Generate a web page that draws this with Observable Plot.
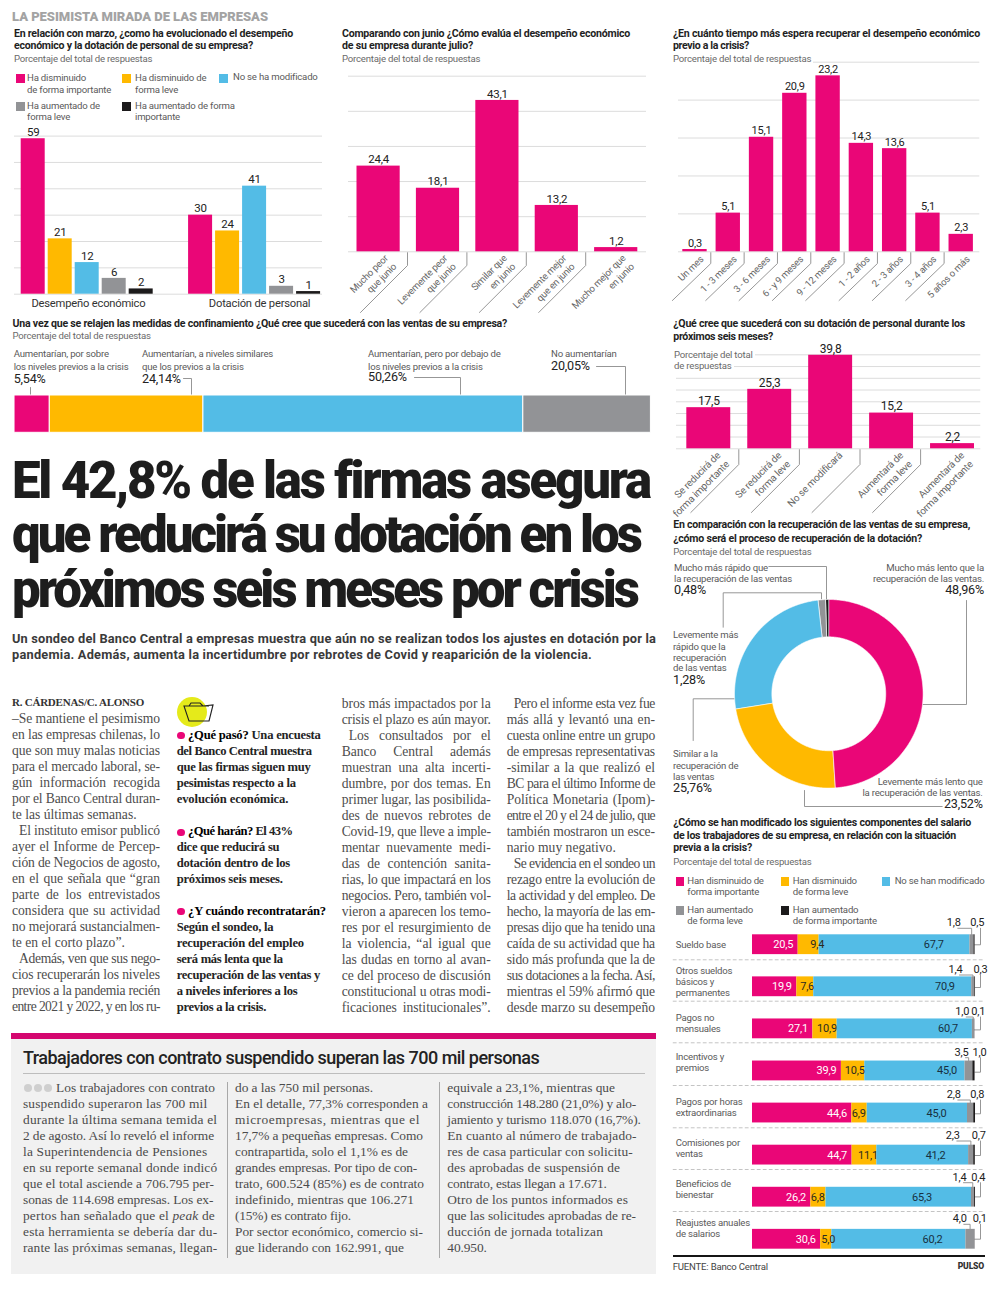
<!DOCTYPE html>
<html lang="es">
<head>
<meta charset="utf-8">
<title>La pesimista mirada de las empresas</title>
<script src="https://cdn.jsdelivr.net/npm/d3@7"></script>
<script src="https://cdn.jsdelivr.net/npm/@observablehq/plot@0.6"></script>
<style>
html,body{margin:0;padding:0;background:#fff;overflow:hidden}
#page{position:relative;width:1000px;height:1298px;overflow:hidden;background:#fff;font-family:Roboto,sans-serif}
#page svg{position:absolute}
.t{position:absolute;white-space:pre;transform:translateY(-50%);line-height:1.1;color:#5a5a5a;font-size:9.6px;letter-spacing:-.2px}
.q{color:#1f1f1f;font-weight:700;font-size:10.6px;letter-spacing:0}
.sub{color:#6a6a6a;font-size:9.6px;background:#fff;padding-right:2px}
.val{color:#222;font-size:12.6px;letter-spacing:-.2px}
.s{font-family:"Liberation Serif",serif;color:#4d4d4d;font-size:13.6px;letter-spacing:0}
.sb{font-family:"Liberation Serif",serif;color:#242424;font-size:12.6px;font-weight:700;letter-spacing:0}
.box{font-family:"Liberation Serif",serif;color:#4b4b4b;font-size:13.4px;letter-spacing:0}
.sw{position:absolute;width:8.5px;height:8.5px}
.b{position:absolute}
</style>
</head>
<body>
<div id="page"></div>
<script>
// ---------- DATA ----------
const pink = "#ea0677", amber = "#ffb900", sky = "#53bce6", grey = "#929396", ink = "#1c1a1b";

const groups = ["Desempeño económico", "Dotación de personal"];
const answerKeys = ["Ha disminuido de forma importante", "Ha disminuido de forma leve", "No se ha modificado", "Ha aumentado de forma leve", "Ha aumentado de forma importante"];
const desempeno = [59, 21, 12, 6, 2];
const dotacion = [30, 24, 41, 3, 1];

const juneLabels = ["Mucho peor\nque junio", "Levemente peor\nque junio", "Similar que\nen junio", "Levemente mejor\nque en junio", "Mucho mejor que\nen junio"];
const juneValues = [24.4, 18.1, 43.1, 13.2, 1.2];

const timeLabels = ["Un mes", "1 - 3 meses", "3 - 6 meses", "6 - y 9 meses", "9 - 12 meses", "1 - 2 años", "2 - 3 años", "3 - 4 años", "5 años o más"];
const timeValues = [0.3, 5.1, 15.1, 20.9, 23.2, 14.3, 13.6, 5.1, 2.3];

const salesKeys = ["Por sobre", "Similares", "Por debajo", "No aumentarían"];
const salesValues = [5.54, 24.14, 50.26, 20.05];

const staffLabels = ["Se reducirá de\nforma importante", "Se reducirá de\nforma leve", "No se modificará", "Aumentará de\nforma leve", "Aumentará de\nforma importante"];
const staffValues = [17.5, 25.3, 39.8, 15.2, 2.2];

const donutKeys = ["Mucho más lento", "Levemente más lento", "Similar", "Levemente más rápido", "Mucho más rápido"];
const donutValues = [48.96, 23.52, 25.76, 1.28, 0.48];

const salaryRows = ["Sueldo base", "Otros sueldos básicos y permanentes", "Pagos no mensuales", "Incentivos y premios", "Pagos por horas extraordinarias", "Comisiones por ventas", "Beneficios de bienestar", "Reajustes anuales de salarios"];
const salaryKeys = ["Han disminuido de forma importante", "Han disminuido de forma leve", "No se han modificado", "Han aumentado de forma leve", "Han aumentado de forma importante"];
const salPink = [20.5, 19.9, 27.1, 39.9, 44.6, 44.7, 26.2, 30.6];
const salAmber = [9.4, 7.6, 10.9, 10.5, 6.9, 11.1, 6.8, 5.0];
const salSky = [67.7, 70.9, 60.7, 45.0, 45.0, 41.2, 65.3, 60.2];
const salGrey = [1.8, 1.4, 1.0, 3.5, 2.8, 2.3, 1.4, 4.0];
const salInk = [0.5, 0.3, 0.1, 1.0, 0.8, 0.7, 0.4, 0.1];

// ---------- ARTICLE TEXT ----------
const headline = ["El 42,8% de las firmas asegura", "que reducirá su dotación en los", "próximos seis meses por crisis"];
const deck = ["Un sondeo del Banco Central a empresas muestra que aún no se realizan todos los ajustes en dotación por la", "pandemia. Además, aumenta la incertidumbre por rebrotes de Covid y reaparición de la violencia."];
const col1 = ["–Se mantiene el pesimismo","en las empresas chilenas, lo","que son muy malas noticias","para el mercado laboral, se-","gún información recogida","por el Banco Central duran-","te las últimas semanas.|","  El instituto emisor publicó","ayer el Informe de Percep-","ción de Negocios de agosto,","en el que señala que “gran","parte de los entrevistados","considera que su actividad","no mejorará sustancialmen-","te en el corto plazo”.|","  Además, ven que sus nego-","cios recuperarán los niveles","previos a la pandemia recién","entre 2021 y 2022, y en los ru-"];
const col3 = ["bros más impactados por la","crisis el plazo es aún mayor.","  Los consultados por el","Banco Central además","muestran una alta incerti-","dumbre, por dos temas. En","primer lugar, las posibilida-","des de nuevos rebrotes de","Covid-19, que lleve a imple-","mentar nuevamente medi-","das de contención sanita-","rias, lo que impactará en los","negocios. Pero, también vol-","vieron a aparecen los temo-","res por el resurgimiento de","la violencia, “al igual que","las dudas en torno al avan-","ce del proceso de discusión","constitucional u otras modi-","ficaciones institucionales”."];
const col4 = ["  Pero el informe esta vez fue","más allá y levantó una en-","cuesta online entre un grupo","de empresas representativas","-similar a la que realizó el","BC para el último Informe de","Política Monetaria (Ipom)-","entre el 20 y el 24 de julio, que","también mostraron un esce-","nario muy negativo.|","  Se evidencia en el sondeo un","rezago entre la evolución de","la actividad y del empleo. De","hecho, la mayoría de las em-","presas dijo que ha tenido una","caída de su actividad que ha","sido más profunda que la de","sus dotaciones a la fecha. Así,","mientras el 59% afirmó que","desde marzo su desempeño"];
const side = [
 [735.7,"<b style='color:#000'>¿Qué pasó?</b> Una encuesta",188,320.7],[751.7,"del Banco Central muestra",176.7,311.7],[767.7,"que las firmas siguen muy",176.7,310.7],[784,"pesimistas respecto a la",176.7,295.7],[800,"evolución económica.",176.7,288.3],
 [832.3,"<b style='color:#000'>¿Qué harán?</b> El 43%",188,292.7],[848,"dice que reducirá su",176.7,279.3],[864,"dotación dentro de los",176.7,290],[880,"próximos seis meses.",176.7,282.7],
 [911.7,"<b style='color:#000'>¿Y cuándo recontratarán?</b>",188,326],[927.7,"Según el sondeo, la",176.7,273.3],[943.7,"recuperación del empleo",176.7,304],[959.7,"será más lenta que la",176.7,282.7],[975.7,"recuperación de las ventas y",176.7,320],[991.7,"a niveles inferiores a los",176.7,297.3],[1007.7,"previos a la crisis.",176.7,266]
];
const boxHead = "Trabajadores con contrato suspendido superan las 700 mil personas";
const box1 = [["Los trabajadores con contrato",56,215],["suspendido superaron las 700 mil",23,207.3],["durante la última semana temida el",23,217.3],["2 de agosto. Así lo reveló el informe",23,214],["la Superintendencia de Pensiones",23,207.3],["en su reporte semanal donde indicó",23,217.3],["que el total asciende a 706.795 per-",23,214],["sonas de 114.698 empresas. Los ex-",23,213.3],["pertos han señalado que el <i>peak</i> de",23,215],["esta herramienta se debería dar du-",23,217.3],["rante las próximas semanas, llegan-",23,217.3]];
const box2 = [["do a las 750 mil personas.",373],["En el detalle, 77,3% corresponden a",428],["microempresas, mientras que el",420],["17,7% a pequeñas empresas. Como",423],["contrapartida, solo el 1,1% es de",408],["grandes empresas. Por tipo de con-",417],["trato, 600.524 (85%) es de contrato",424],["indefinido, mientras que 106.271",414],["(15%) es contrato fijo.",351],["Por sector económico, comercio si-",423],["gue liderando con 162.991, que",404]];
const box3 = [["equivale a 23,1%, mientras que",615],["construcción 148.280 (21,0%) y alo-",636],["jamiento y turismo 118.070 (16,7%).",640.7],["En cuanto al número de trabajado-",636.7],["res de casa particular con solicitu-",632.7],["des aprobadas de suspensión de",620],["contrato, estas llegan a 17.671.",606.7],["Otro de los puntos informados es",628],["que las solicitudes aprobadas de re-",636],["ducción de jornada totalizan",603],["40.950.",486.7]];

// ---------- HELPERS ----------
const page = document.getElementById("page");
const fmt1 = v => v.toFixed(1).replace(".", ",");

function T(x, y, html, cls = "", o = {}) {
  const e = document.createElement("div");
  e.className = "t " + cls;
  e.innerHTML = html;
  if (o.right != null) { e.style.right = (1000 - o.right) + "px"; } else { e.style.left = x + "px"; }
  e.style.top = y + "px";
  if (o.color) e.style.color = o.color;
  if (o.size) e.style.fontSize = o.size + "px";
  if (o.weight) e.style.fontWeight = o.weight;
  if (o.family) e.style.fontFamily = o.family;
  if (o.lh) e.style.lineHeight = o.lh;
  page.append(e);
  if (o.end != null) {
    const n = e.textContent.length;
    const cur = parseFloat(getComputedStyle(e).letterSpacing) || 0;
    const nat = e.getBoundingClientRect().width;
    const ls = cur + (o.end - x - nat) / Math.max(1, n);
    e.style.letterSpacing = ls.toFixed(3) + "px";
  }
  return e;
}
function Just(x, y, end, raw, cls) {
  let s = raw, free = false, ind = 0;
  if (s.endsWith("|")) { s = s.slice(0, -1); free = true; }
  if (s.startsWith("  ")) { s = s.slice(2); ind = 7; }
  const e = T(x + ind, y, s, cls);
  if (free) return;
  const w = end - x - ind, nat = e.getBoundingClientRect().width;
  const spaces = (s.match(/ /g) || []).length;
  if (nat > w) e.style.letterSpacing = ((w - nat) / s.length).toFixed(3) + "px";
  else if (spaces) e.style.wordSpacing = ((w - nat) / spaces).toFixed(3) + "px";
}
function Box(l, t, w, h, bg) {
  const e = document.createElement("div");
  e.className = "b";
  Object.assign(e.style, {left: l + "px", top: t + "px", width: w + "px", height: h + "px", background: bg});
  page.append(e);
}
function Sw(l, t, c) {
  const e = document.createElement("div");
  e.className = "sw";
  Object.assign(e.style, {left: l + "px", top: t + "px", background: c});
  page.append(e);
}
// a chart panel: l,t,w,h are its place on the page, m a side margin for the gridlines
function panel(l, t, w, h, m, opts) {
  const svg = Plot.plot({
    width: w + 2 * m, height: h, marginLeft: m, marginRight: m, marginTop: 0, marginBottom: 0,
    style: {background: "transparent", overflow: "visible", fontFamily: "Roboto,sans-serif", letterSpacing: "-0.2px"},
    ...opts
  });
  svg.style.left = (l - m) + "px";
  svg.style.top = t + "px";
  page.append(svg);
  return svg;
}
function poly(list, pts) { const id = list.length ? list[list.length - 1].id + 1 : 0; pts.forEach(p => list.push({id, x: p[0], y: p[1]})); }

// ---------- ANNOTATION LAYER (leader lines, separators, small labels), in page pixels ----------
const leaders = [], dashes = [], topLabels = [];

juneValues.slice(1).forEach((_, i) => { const x = 407 + i * 59.4; poly(leaders, [[x, 252], [x, 265], [x - 47, 312]]); });
timeValues.slice(1).forEach((_, i) => { const x = 710.3 + i * 33.33; poly(leaders, [[x, 252], [x, 263], [x - 38.4, 300]]); });
staffValues.slice(1).forEach((_, i) => { const x = 738.3 + i * 60.6; poly(leaders, [[x, 449], [x, 464], [x - 48, 512]]); });
poly(leaders, [[30, 387], [30, 395]]);
poly(leaders, [[183, 378], [191, 378], [191, 395]]);
poly(leaders, [[414, 377], [460, 377], [460, 395]]);
poly(leaders, [[596, 366], [625, 366], [625, 395]]);
poly(leaders, [[768.3, 566], [826, 566], [826, 598.3]]);
poly(leaders, [[722.7, 626.7], [722.7, 592.3], [821, 592.3], [821, 598.3]]);
poly(leaders, [[966, 600], [966, 704], [922.3, 704]]);
poly(leaders, [[692.7, 740], [692.7, 698.3], [734, 698.3]]);
poly(leaders, [[804, 790], [804, 806], [941.7, 806]]);
const rowTops = [934.3, 977, 1019.4, 1061.7, 1103.3, 1145, 1186.4, 1228.7];
const sepYs = [959.3, 1000.7, 1042.3, 1085, 1127.3, 1169, 1211];
const greyLabelX = [953.3, 955, 961.7, 961, 953.3, 952.3, 959, 959.3];
const inkLabelX = [976.7, 980, 977.7, 979, 976.7, 978.3, 977.7, 979.3];
const labelY = [922.3, 969, 1011, 1051.7, 1094, 1135, 1176.7, 1218.3];
const sx0 = 751.7, sk = 2.228;
rowTops.forEach((top, i) => {
  const before = salPink[i] + salAmber[i] + salSky[i];
  const gm = sx0 + sk * (before + salGrey[i] / 2);
  const end = sx0 + sk * (before + salGrey[i] + salInk[i]);
  const ly = labelY[i] + 5.5;
  poly(leaders, [[greyLabelX[i] + 4, ly], [gm, ly], [gm, top]]);
  poly(leaders, [[980, ly], [980, top + 10], [end, top + 10]]);
  topLabels.push({x: greyLabelX[i], y: labelY[i], t: fmt1(salGrey[i])});
  topLabels.push({x: inkLabelX[i], y: labelY[i], t: fmt1(salInk[i])});
});
sepYs.forEach(y => poly(dashes, [[672.7, y], [982.7, y]]));

panel(0, 0, 1000, 1298, 0, {
  x: {domain: [0, 1000], range: [0, 1000], axis: null},
  y: {domain: [0, 1298], range: [0, 1298], axis: null},
  marks: [
    Plot.line(leaders, {x: "x", y: "y", z: "id", stroke: "#8b8b8b", strokeWidth: 0.9, curve: "linear"}),
    Plot.line(dashes, {x: "x", y: "y", z: "id", stroke: "#bdbdbd", strokeWidth: 0.9, strokeDasharray: "3,3"}),
    Plot.text(topLabels, {x: "x", y: "y", text: "t", fontSize: 11, fill: "#222"})
  ]
});

// ---------- CHART 1: grouped bars ----------
const groupStep = 6.2, barShare = 0.889;
const groupLabelAt = [2.49, 8.83];
const groupedRows = [desempeno, dotacion].flatMap((vals, g) => vals.map((v, s) => ({g, s, v, slot: g * groupStep + s})));
panel(14, 120, 308, 190, 0, {
  x: {domain: [0, 11.06], range: [6.7, 305.3], axis: null},
  y: {domain: [0, 60], range: [173.7, 15.6], axis: null},
  color: {domain: answerKeys.map((_, i) => i), range: [pink, amber, sky, grey, ink]},
  marks: [
    Plot.ruleY(d3.range(0, 61, 10), {stroke: "#dcdcdc", strokeWidth: 1}),
    Plot.rectY(groupedRows, {x1: "slot", x2: d => d.slot + barShare, y1: () => 0, y2: "v", fill: "s"}),
    Plot.text(groupedRows, {x: d => d.slot + barShare / 2, y: "v", text: d => String(d.v), dy: -6.5, fontSize: 11.5, fill: "#222"}),
    Plot.text(groups, {x: (d, i) => groupLabelAt[i], y: () => 0, text: d => d, dy: 9, fontSize: 11.2, fill: "#333"})
  ]
});

// ---------- rotated-label column chart ----------
function columns(labels, values, o) {
  const rows = labels.map((label, i) => ({label, v: values[i]}));
  panel(o.gl, o.t, o.gr - o.gl, o.h, o.m, {
    x: {type: "band", domain: labels, range: [o.a - o.gl + o.m, o.b - o.gl + o.m], paddingInner: o.pad, paddingOuter: 0, round: false, axis: null},
    y: {domain: o.dom, range: [o.base - o.t, o.top - o.t], axis: null},
    marks: [
      Plot.ruleY(d3.range(0, o.dom[1] + 1, o.tick), {stroke: "#dcdcdc", strokeWidth: 1}),
      Plot.barY(rows, {x: "label", y: "v", fill: pink}),
      Plot.text(rows, {x: "label", y: "v", text: d => fmt1(d.v), dy: -6.5, fontSize: o.vs, fill: "#222"}),
      Plot.text(rows, {x: "label", y: () => 0, text: "label", rotate: -45, textAnchor: "end", lineAnchor: "top", lineHeight: 1.25, dx: o.dx, dy: o.dy, fontSize: o.ls, fill: "#666"})
    ]
  });
}
columns(juneLabels, juneValues, {gl: 348, gr: 646, t: 66, h: 250, m: 16, a: 356.5, b: 637.3, pad: 0.273, dom: [0, 50], tick: 10, base: 251.3, top: 75.7, vs: 11.5, ls: 9.6, dx: 4, dy: 1});
columns(timeLabels, timeValues, {gl: 678.3, gr: 979.6, t: 55, h: 250, m: 8, a: 682.6, b: 973.2, pad: 0.268, dom: [0, 25], tick: 5, base: 251.3, top: 61.7, vs: 11, ls: 9.6, dx: 3, dy: 2});
columns(staffLabels, staffValues, {gl: 675.7, gr: 980, t: 345, h: 175, m: 10, a: 686, b: 973.7, pad: 0.279, dom: [0, 40], tick: 5, base: 448.3, top: 354.3, vs: 12, ls: 10, dx: 6, dy: 1});

// ---------- CHART 4: single stacked bar ----------
const salesRows = salesKeys.map((k, i) => ({k, v: salesValues[i], i}));
panel(13.5, 395, 636.5, 37.3, 0, {
  x: {domain: [0, 100], range: [0, 636.5], axis: null},
  color: {domain: [0, 1, 2, 3], range: [pink, amber, sky, grey]},
  marks: [Plot.barX(salesRows, {x: "v", fill: "i", stroke: "#fff", strokeWidth: 1})]
});

// ---------- CHART 6: donut, slices from d3.pie over the values ----------
const pie = d3.pie().sort(null)(donutValues);
const ringPts = pie.flatMap((a, k) => {
  const steps = Math.max(2, Math.ceil((a.endAngle - a.startAngle) / 0.01));
  const ang = d3.range(steps + 1).map(j => a.startAngle + (a.endAngle - a.startAngle) * j / steps);
  const inner = 0.604;
  return [...ang.map(t => ({k, x: Math.sin(t), y: Math.cos(t)})),
          ...ang.reverse().map(t => ({k, x: inner * Math.sin(t), y: inner * Math.cos(t)}))];
});
panel(733.9, 599, 188.6, 188.6, 0, {
  x: {domain: [-1, 1], range: [0, 188.6], axis: null},
  y: {domain: [-1, 1], range: [188.6, 0], axis: null},
  color: {domain: [0, 1, 2, 3, 4], range: [pink, amber, sky, grey, ink]},
  marks: [Plot.line(ringPts, {x: "x", y: "y", z: "k", fill: "k", stroke: "#fff", strokeWidth: 0.6, curve: "linear-closed"})]
});

// ---------- CHART 7: stacked salary bars ----------
const salSeries = [salPink, salAmber, salSky, salGrey, salInk];
const salLong = salaryRows.flatMap((row, r) => salSeries.map((vals, s) => ({row, s, v: vals[r]})));
const amberNudge = [5.4, 1.5, 1.9, 1.5, 0, 2.7, 0, 0.3];
const skyAt = [0.76, 0.83, 0.82, 0.82, 0.69, 0.64, 0.66, 0.75];
const salRowsTxt = salaryRows.map((row, r) => ({row, r}));
panel(751.7, 930, 228.3, 323, 0, {
  x: {domain: [0, 100], range: [0, 222.8], axis: null},
  y: {type: "band", domain: salaryRows, range: [4.3, 318.7], paddingInner: 0.529, paddingOuter: 0, round: false, axis: null},
  color: {domain: [0, 1, 2, 3, 4], range: [pink, amber, sky, grey, ink]},
  marks: [
    Plot.barX(salLong, {y: "row", x: "v", fill: "s"}),
    Plot.text(salRowsTxt, {y: "row", x: d => salPink[d.r], text: d => fmt1(salPink[d.r]), textAnchor: "end", dx: -5, fill: "#fff", fontSize: 11}),
    Plot.text(salRowsTxt, {y: "row", x: d => salPink[d.r] + amberNudge[d.r], text: d => fmt1(salAmber[d.r]), textAnchor: "start", fill: "#2b2a20", fontSize: 11}),
    Plot.text(salRowsTxt, {y: "row", x: d => salPink[d.r] + salAmber[d.r] + skyAt[d.r] * salSky[d.r], text: d => fmt1(salSky[d.r]), fill: "#17303f", fontSize: 11})
  ]
});

// ---------- TEXT: charts ----------
T(12, 17, "LA PESIMISTA MIRADA DE LAS EMPRESAS", "", {color: "#a3a3a3", weight: 900, size: 13, end: 268});

T(14, 34, "En relación con marzo, ¿como ha evolucionado el desempeño", "q", {end: 293});
T(14, 45.5, "económico y la dotación de personal de su empresa?", "q", {end: 253});
T(14, 59, "Porcentaje del total de respuestas", "sub");
[[16, 74, pink], [122, 74, amber], [219, 74, sky], [16, 102, grey], [122, 102, ink]].forEach(a => Sw(...a));
[[27, 78, "Ha disminuido"], [27, 90, "de forma importante"], [135, 78, "Ha disminuido de"], [135, 90, "forma leve"], [233, 77, "No se ha modificado"], [27, 106, "Ha aumentado de"], [27, 117, "forma leve"], [135, 106, "Ha aumentado de forma"], [135, 117, "importante"]].forEach(a => T(a[0], a[1], a[2]));

T(342, 34, "Comparando con junio ¿Cómo evalúa el desempeño económico", "q", {end: 630});
T(342, 45.5, "de su empresa durante julio?", "q", {end: 473});
T(342, 59, "Porcentaje del total de respuestas", "sub");

T(673, 34, "¿En cuánto tiempo más espera recuperar el desempeño económico", "q", {end: 980});
T(673, 45.5, "previo a la crisis?", "q", {end: 749});
T(673, 59, "Porcentaje del total de respuestas", "sub");

T(12.5, 324, "Una vez que se relajen las medidas de confinamiento ¿Qué cree que sucederá con las ventas de su empresa?", "q", {end: 507});
T(12.5, 336, "Porcentaje del total de respuestas", "sub");
[[13.7, 354.3, "Aumentarían, por sobre"], [13.7, 366.7, "los niveles previos a la crisis"], [142, 354.3, "Aumentarían, a niveles similares"], [142, 366.7, "que los previos a la crisis"], [368, 354.3, "Aumentarían, pero por debajo de"], [368, 366.7, "los niveles previos a la crisis"], [551, 354.3, "No aumentarían"]].forEach(a => T(a[0], a[1], a[2]));
T(13.7, 378.5, "5,54%", "val"); T(142, 378.5, "24,14%", "val"); T(368, 377, "50,26%", "val"); T(551, 366, "20,05%", "val");

T(673.3, 324, "¿Qué cree que sucederá con su dotación de personal durante los", "q", {end: 965});
T(673.3, 337, "próximos seis meses?", "q", {end: 773});
T(674, 355, "Porcentaje del total", "sub"); T(674, 366, "de respuestas", "sub");

T(673.3, 525, "En comparación con la recuperación de las ventas de su empresa,", "q", {end: 970});
T(673.3, 538.5, "¿cómo será el proceso de recuperación de la dotación?", "q", {end: 922});
T(673.3, 552, "Porcentaje del total de respuestas", "sub");
T(674, 568, "Mucho más rápido que"); T(674, 579, "la recuperación de las ventas"); T(674, 590, "0,48%", "val");
T(0, 568, "Mucho más lento que la", "", {right: 984}); T(0, 579, "recuperación de las ventas.", "", {right: 984}); T(0, 590, "48,96%", "val", {right: 984});
T(673, 635, "Levemente más"); T(673, 646.5, "rápido que la"); T(673, 657.7, "recuperación"); T(673, 668.3, "de las ventas"); T(673, 680, "1,28%", "val");
T(673, 754.3, "Similar a la"); T(673, 766, "recuperación de"); T(673, 776.7, "las ventas"); T(673, 788, "25,76%", "val");
T(0, 782.3, "Levemente más lento que", "", {right: 982.7}); T(0, 793.3, "la recuperación de las ventas.", "", {right: 982.7}); T(0, 804.3, "23,52%", "val", {right: 982.7});

T(673.3, 823.3, "¿Cómo se han modificado los siguientes componentes del salario", "q", {end: 971});
T(673.3, 835.7, "de los trabajadores de su empresa, en relación con la situación", "q", {end: 956});
T(673.3, 847.7, "previa a la crisis?", "q", {end: 752});
T(673.3, 862.3, "Porcentaje del total de respuestas", "sub");
[[675.7, 877, pink], [780.7, 877, amber], [881.7, 877, sky], [675.7, 906, grey], [780.7, 906, ink]].forEach(a => Sw(...a));
[[687.3, 880.7, "Han disminuido de"], [687.3, 892.3, "forma importante"], [792.7, 880.7, "Han disminuido"], [792.7, 892.3, "de forma leve"], [894.7, 880.7, "No se han modificado"], [687.3, 909.7, "Han aumentado"], [687.3, 921, "de forma leve"], [792.7, 909.7, "Han aumentado"], [792.7, 921, "de forma importante"]].forEach(a => T(a[0], a[1], a[2]));
[[945, "Sueldo base"], [970.7, "Otros sueldos"], [982.3, "básicos y"], [993.3, "permanentes"], [1017.7, "Pagos no"], [1028.7, "mensuales"], [1057.3, "Incentivos y"], [1068.3, "premios"], [1102, "Pagos por horas"], [1113, "extraordinarias"], [1143.3, "Comisiones por"], [1154.3, "ventas"], [1184.3, "Beneficios de"], [1195.3, "bienestar"], [1222.7, "Reajustes anuales"], [1234, "de salarios"]].forEach(a => T(675.7, a[0], a[1]));
Box(672.7, 1255, 312.3, 2.4, "#151515");
T(672.7, 1266.7, "FUENTE: Banco Central", "", {color: "#444"});
T(0, 1266.7, "PULSO", "", {right: 984, color: "#333", weight: 900, size: 8.6});

// ---------- TEXT: article ----------
[[481, 650], [535, 640], [590, 637]].forEach((p, i) => T(12, p[0], headline[i], "", {color: "#1d1d1d", weight: 900, size: 51, family: "Roboto,sans-serif", end: p[1]}));
T(12, 639, deck[0], "", {color: "#3a3a3a", weight: 700, size: 12.8, end: 656});
T(12, 654.5, deck[1], "", {color: "#3a3a3a", weight: 700, size: 12.8, end: 592});

T(12, 702.3, "R. CÁRDENAS/C. ALONSO", "s", {color: "#333", weight: 700, size: 11, end: 144});
col1.forEach((s, i) => Just(12, 719 + i * 16.02, 160, s, "s"));
col3.forEach((s, i) => Just(341.7, 704 + i * 15.98, 490.7, s, "s"));
col4.forEach((s, i) => Just(506.7, 704 + i * 15.98, 655, s, "s"));

const dot = (x, y, r, c) => { const e = document.createElement("div"); e.className = "b"; Object.assign(e.style, {left: (x - r) + "px", top: (y - r) + "px", width: 2 * r + "px", height: 2 * r + "px", borderRadius: "50%", background: c}); page.append(e); };
dot(191.7, 711.7, 15, "#e5ea1a");
const icon = document.createElement("div");
icon.className = "b";
icon.style.left = "181px"; icon.style.top = "700px";
icon.innerHTML = "<svg width='34' height='24' viewBox='0 0 34 24' fill='none' stroke='#222' stroke-width='1.1' style='position:static'><path d='M3 6 L8 6 L10 3 L19 3 L22 6 L32 5 L28 21 L8 21 L3 6 Z M3 6 L28 6 M28 21 L32 5'/></svg>";
page.append(icon);
[735.5, 832.3, 911.7].forEach(y => dot(181, y, 3.7, pink));
side.forEach(a => T(a[2], a[0], a[1], "sb", {end: a[3]}));

Box(11, 1039, 645, 235, "#f1f1f1");
Box(11, 1033.3, 645, 5.9, "#d4076f");
T(23, 1058, boxHead, "", {color: "#222", weight: 500, size: 18, end: 539.3});
Box(23, 1073, 622, 1, "#bdbdbd");
Box(227, 1081.7, 1, 176.6, "#a8a8a8");
Box(439.3, 1081.7, 1, 176.6, "#a8a8a8");
[27.5, 37.5, 47.5].forEach(x => dot(x, 1088, 4, "#cfcfcf"));
box1.forEach((a, i) => T(a[1], 1088.3 + i * 16, a[0], "box", {end: a[2]}));
box2.forEach((a, i) => T(235, 1088.3 + i * 16, a[0], "box", {end: a[1]}));
box3.forEach((a, i) => T(447.3, 1088.3 + i * 16, a[0], "box", {end: a[1]}));
</script>
</body>
</html>
